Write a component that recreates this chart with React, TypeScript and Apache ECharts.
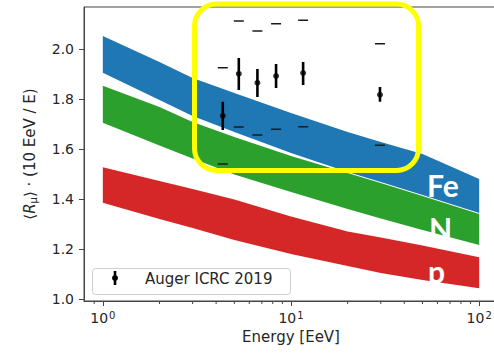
import React, { useEffect, useRef } from 'react';
import * as echarts from 'echarts';

// Simulation bands: muon content vs. energy for iron, nitrogen and proton primaries
const energies = [1, 2, 3, 5, 10, 20, 30, 50, 100];
const feUpper = [2.052, 1.948, 1.884, 1.824, 1.744, 1.668, 1.628, 1.58, 1.48];
const feLower = [1.905, 1.796, 1.732, 1.668, 1.584, 1.508, 1.468, 1.416, 1.344];
const nUpper = [1.853, 1.768, 1.708, 1.648, 1.572, 1.504, 1.464, 1.412, 1.34];
const nLower = [1.705, 1.614, 1.562, 1.498, 1.428, 1.36, 1.322, 1.276, 1.216];
const pUpper = [1.527, 1.472, 1.44, 1.398, 1.33, 1.27, 1.246, 1.214, 1.167];
const pLower = [1.385, 1.32, 1.284, 1.236, 1.18, 1.132, 1.104, 1.076, 1.043];

// Auger ICRC 2019 measurements
const augerEnergy = [4.34, 5.28, 6.63, 8.33, 11.6, 29.7];
const augerRmu = [1.733, 1.901, 1.865, 1.892, 1.904, 1.817];
const augerStatLow = [1.676, 1.836, 1.808, 1.844, 1.856, 1.789];
const augerStatHigh = [1.789, 1.964, 1.92, 1.94, 1.948, 1.848];
const augerSysLow = [1.54, 1.688, 1.656, 1.679, 1.689, 1.615];
const augerSysHigh = [1.925, 2.112, 2.072, 2.101, 2.115, 2.021];

// Minor tick positions of the logarithmic energy axis
const minorTicks = [0.9, 2, 3, 4, 5, 6, 7, 8, 9, 20, 30, 40, 50, 60, 70, 80, 90];

const X_MIN = Math.pow(10, -0.1);
const X_MAX = Math.pow(10, 2.1);
const Y_MIN = 0.992;
const Y_MAX = 2.168;

const FONT = 'DejaVu Sans';
const INK = '#262626';

function band(name: string, upper: number[], lower: number[], color: string) {
  return {
    type: 'custom',
    name,
    silent: true,
    z: 1,
    data: energies.map((e, i) => [e, upper[i], lower[i]]),
    renderItem: (params: any, api: any) => {
      if (params.dataIndex !== 0) return null;
      const pts: number[][] = [];
      for (let i = 0; i < energies.length; i++) pts.push(api.coord([energies[i], upper[i]]));
      for (let i = energies.length - 1; i >= 0; i--) pts.push(api.coord([energies[i], lower[i]]));
      return { type: 'polygon', shape: { points: pts }, style: { fill: color } };
    },
  };
}

export default function App() {
  const ref = useRef<HTMLDivElement>(null);

  useEffect(() => {
    if (!ref.current) return;
    const chart = echarts.init(ref.current, undefined, { renderer: 'svg' });

    const option: any = {
      animation: false,
      backgroundColor: '#fff',
      grid: {
        left: 84,
        top: 7,
        right: 0,
        bottom: 52,
        show: true,
        borderColor: '#444',
        borderWidth: 1,
        backgroundColor: 'transparent',
      },
      xAxis: {
        type: 'log',
        logBase: 10,
        min: X_MIN,
        max: X_MAX,
        name: 'Energy [EeV]',
        nameLocation: 'middle',
        nameGap: 26,
        nameTextStyle: { fontFamily: FONT, fontSize: 15, color: INK },
        axisLine: { lineStyle: { color: '#444', width: 1 } },
        axisTick: { show: true, inside: false, length: 5, lineStyle: { color: '#444', width: 1 } },
        splitLine: { show: false },
        axisLabel: {
          showMinLabel: false,
          showMaxLabel: false,
          margin: 9,
          fontFamily: FONT,
          fontSize: 14,
          color: INK,
          formatter: (v: number) => '10{sup|' + Math.round(Math.log10(v)) + '}',
          rich: {
            sup: { fontFamily: FONT, fontSize: 10, color: INK, verticalAlign: 'top', padding: [0, 0, 6, 1] },
          },
        },
      },
      yAxis: {
        type: 'value',
        min: Y_MIN,
        max: Y_MAX,
        name: '⟨{it|R}{sub|μ}⟩ · (10 EeV / E)',
        nameLocation: 'middle',
        nameRotate: 90,
        nameGap: 46,
        nameTextStyle: {
          fontFamily: FONT,
          fontSize: 15,
          color: INK,
          rich: {
            it: { fontFamily: FONT, fontSize: 15, fontStyle: 'italic', color: INK },
            sub: { fontFamily: FONT, fontSize: 10, color: INK, padding: [7, 0, 0, 0] },
          },
        },
        axisLine: { show: true, lineStyle: { color: '#444', width: 1 } },
        axisTick: { show: true, inside: false, length: 5, lineStyle: { color: '#444', width: 1 } },
        splitLine: { show: false },
        axisLabel: {
          showMinLabel: false,
          showMaxLabel: false,
          margin: 10,
          fontFamily: FONT,
          fontSize: 14,
          color: INK,
          formatter: (v: number) => v.toFixed(1),
        },
      },
      series: [
        band('Fe', feUpper, feLower, '#1f77b4'),
        band('N', nUpper, nLower, '#2ca02c'),
        band('p', pUpper, pLower, '#d62728'),
        {
          type: 'custom',
          name: 'minor ticks',
          silent: true,
          clip: false,
          data: minorTicks.map((v) => [v, Y_MIN]),
          renderItem: (params: any, api: any) => {
            const p = api.coord([api.value(0), api.value(1)]);
            return {
              type: 'line',
              shape: { x1: p[0], y1: p[1], x2: p[0], y2: p[1] + 3 },
              style: { stroke: '#444', lineWidth: 1 },
            };
          },
        },
        {
          type: 'custom',
          name: 'systematics',
          silent: true,
          z: 5,
          data: augerEnergy.map((e, i) => [e, augerSysLow[i], augerSysHigh[i]]),
          renderItem: (params: any, api: any) => {
            const a = api.coord([api.value(0), api.value(1)]);
            const b = api.coord([api.value(0), api.value(2)]);
            const st = { stroke: '#1a1a1a', lineWidth: 1.5 };
            return {
              type: 'group',
              children: [
                { type: 'line', shape: { x1: a[0] - 5, y1: a[1], x2: a[0] + 5, y2: a[1] }, style: st },
                { type: 'line', shape: { x1: b[0] - 5, y1: b[1], x2: b[0] + 5, y2: b[1] }, style: st },
              ],
            };
          },
        },
        {
          type: 'custom',
          name: 'statistical',
          silent: true,
          z: 6,
          data: augerEnergy.map((e, i) => [e, augerStatLow[i], augerStatHigh[i]]),
          renderItem: (params: any, api: any) => {
            const lo = api.coord([api.value(0), api.value(1)]);
            const hi = api.coord([api.value(0), api.value(2)]);
            return {
              type: 'line',
              shape: { x1: lo[0], y1: lo[1], x2: hi[0], y2: hi[1] },
              style: { stroke: '#000', lineWidth: 2.6 },
            };
          },
        },
        {
          type: 'scatter',
          name: 'Auger ICRC 2019',
          z: 7,
          symbol: 'circle',
          symbolSize: 6,
          itemStyle: { color: '#000' },
          data: augerEnergy.map((e, i) => [e, augerRmu[i]]),
        },
      ],
      graphic: [
        // legend box
        {
          type: 'rect',
          z: 50,
          shape: { x: 92.5, y: 268.5, width: 198, height: 26, r: 3 },
          style: { fill: '#fff', stroke: '#cfcfcf', lineWidth: 1 },
        },
        {
          type: 'line',
          z: 51,
          shape: { x1: 115, y1: 271, x2: 115, y2: 285 },
          style: { stroke: '#000', lineWidth: 2.6 },
        },
        {
          type: 'circle',
          z: 51,
          shape: { cx: 115, cy: 278, r: 3 },
          style: { fill: '#000' },
        },
        {
          type: 'text',
          z: 51,
          x: 145,
          y: 279,
          style: {
            text: 'Auger ICRC 2019',
            fontFamily: FONT,
            fontSize: 15,
            fill: INK,
            verticalAlign: 'middle',
          },
        },
        // composition labels
        {
          type: 'text',
          z: 40,
          x: 427,
          y: 185,
          style: { text: 'Fe', fontFamily: 'Lato', fontWeight: 'bold', fontSize: 30, fill: '#fff', verticalAlign: 'middle' },
        },
        {
          type: 'text',
          z: 40,
          x: 429,
          y: 228,
          style: { text: 'N', fontFamily: 'Lato', fontWeight: 'bold', fontSize: 30, fill: '#fff', verticalAlign: 'middle' },
        },
        {
          type: 'text',
          z: 40,
          x: 428,
          y: 271,
          style: { text: 'p', fontFamily: 'Lato', fontWeight: 'bold', fontSize: 30, fill: '#fff', verticalAlign: 'middle' },
        },
        // highlight frame
        {
          type: 'rect',
          z: 100,
          shape: { x: 194.5, y: 4, width: 224, height: 166.5, r: 22 },
          style: { fill: 'none', stroke: '#ffff00', lineWidth: 5 },
        },
      ],
    };

    chart.setOption(option);
    return () => chart.dispose();
  }, []);

  return (
    <div style={{ position: 'absolute', left: 0, top: 0, width: 494, height: 353, overflow: 'hidden', background: '#fff' }}>
      <div ref={ref} style={{ width: 498, height: 353 }} />
    </div>
  );
}
